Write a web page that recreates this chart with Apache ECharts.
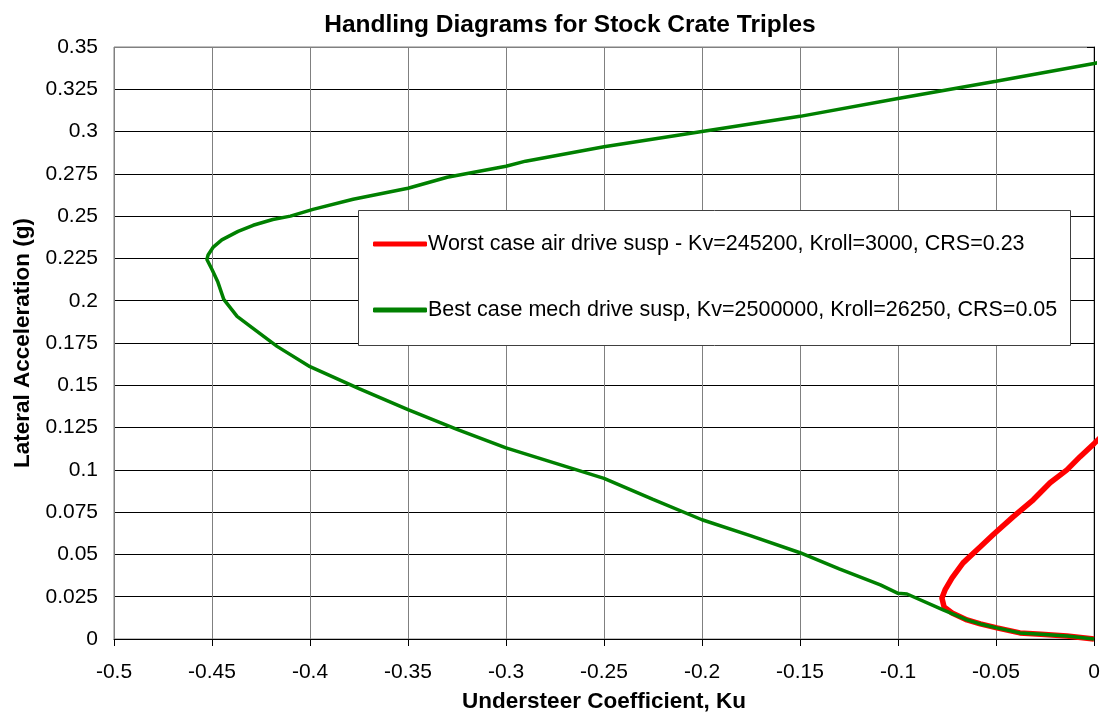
<!DOCTYPE html>
<html>
<head>
<meta charset="utf-8">
<script src="https://cdn.jsdelivr.net/npm/echarts@6/dist/echarts.min.js"></script>
<style>
html,body{margin:0;padding:0;background:#fff;}
#chart{width:1103px;height:715px;}
</style>
</head>
<body>
<div id="chart"></div>
<script>
var titleText = 'Handling Diagrams for Stock Crate Triples';
var xAxisName = 'Understeer Coefficient, Ku';
var yAxisName = 'Lateral Acceleration (g)';
var seriesNames = [
  'Worst case air drive susp - Kv=245200, Kroll=3000, CRS=0.23',
  'Best case mech drive susp, Kv=2500000, Kroll=26250, CRS=0.05'
];
// [Ku, lateral g]
var worstCase = [
  [0, 0], [-0.0138, 0.0018], [-0.027, 0.0028], [-0.0378, 0.0036],
  [-0.0495, 0.0066], [-0.058, 0.0089], [-0.0648, 0.0113], [-0.0724, 0.0154],
  [-0.0765, 0.019], [-0.0776, 0.0243], [-0.076, 0.029], [-0.0724, 0.0361],
  [-0.0668, 0.045], [-0.058, 0.0545], [-0.0515, 0.0616], [-0.0413, 0.0722],
  [-0.031, 0.0823], [-0.0224, 0.0924], [-0.0138, 0.100], [-0.0071, 0.1078],
  [0, 0.1155], [0.0036, 0.1195]
];
var bestCase = [
  [0, 0], [-0.0138, 0.0018], [-0.027, 0.0028], [-0.0378, 0.0036], [-0.0495, 0.0066],
  [-0.058, 0.0089], [-0.0648, 0.0113], [-0.077, 0.0172], [-0.0954, 0.0266],
  [-0.1, 0.027], [-0.109, 0.032], [-0.13, 0.0415], [-0.15, 0.051],
  [-0.175, 0.061], [-0.2, 0.0705], [-0.225, 0.0825], [-0.25, 0.095],
  [-0.275, 0.104], [-0.3, 0.113], [-0.325, 0.124], [-0.35, 0.1356],
  [-0.375, 0.148], [-0.4, 0.161], [-0.4168, 0.173], [-0.4306, 0.185],
  [-0.4372, 0.1907], [-0.444, 0.2008], [-0.447, 0.211], [-0.45, 0.2185],
  [-0.4526, 0.2244], [-0.452, 0.227], [-0.4495, 0.2315], [-0.445, 0.236],
  [-0.4367, 0.241], [-0.429, 0.2446], [-0.419, 0.248], [-0.41, 0.25],
  [-0.3985, 0.254], [-0.378, 0.26], [-0.35, 0.2665], [-0.33, 0.273],
  [-0.3, 0.2795], [-0.29, 0.2825], [-0.25, 0.291], [-0.2, 0.300],
  [-0.15, 0.309], [-0.1, 0.3195], [-0.05, 0.3298], [0, 0.3402], [0.005, 0.3415]
];
var yTickCount = 15;

var chart = echarts.init(document.getElementById('chart'), null, {renderer: 'canvas'});
var ySplitColors = [];
for (var i = 0; i < yTickCount; i++) ySplitColors.push(i === yTickCount - 1 ? '#808080' : '#000000');
var FONT = 'Liberation Sans, Arial, sans-serif';
var option = {
  backgroundColor: '#ffffff',
  animation: false,
  title: {
    text: titleText,
    left: 565, top: 8, textAlign: 'center',
    textStyle: {fontFamily: FONT, fontSize: 24.5, fontWeight: 'bold', color: '#000'}
  },
  grid: {left: 114, right: 9, top: 47, bottom: 76, show: true, borderColor: '#808080', borderWidth: 1,
         containLabel: false, outerBoundsMode: 'none'},
  legend: {
    orient: 'vertical', left: 368, top: 228,
    itemGap: 44, itemWidth: 54, itemHeight: 5,
    icon: 'roundRect', z: 10,
    textStyle: {fontFamily: FONT, fontSize: 21.5, color: '#000', padding: [0, 0, 0, -4]},
    data: seriesNames
  },
  graphic: [{
    type: 'rect', shape: {x: 358.5, y: 210.5, width: 712, height: 135},
    style: {fill: '#ffffff', stroke: '#404040', lineWidth: 1}, z: 3
  }],
  xAxis: {
    type: 'value', min: -0.5, max: 0, interval: 0.05,
    name: xAxisName, nameLocation: 'middle', nameGap: 51, nameMoveOverlap: false,
    nameTextStyle: {fontFamily: FONT, fontSize: 22.5, fontWeight: 'bold', color: '#000'},
    axisLine: {lineStyle: {color: '#000', width: 1}},
    axisTick: {show: true, length: 7, lineStyle: {color: '#000'}},
    axisLabel: {fontFamily: FONT, fontSize: 21, color: '#000', margin: 23},
    splitLine: {show: true, lineStyle: {color: '#808080', width: 1}}
  },
  yAxis: {
    type: 'value', min: 0, max: 0.35, interval: 0.025,
    name: yAxisName, nameLocation: 'middle', nameGap: 80, nameMoveOverlap: false,
    nameTextStyle: {fontFamily: FONT, fontSize: 22.5, fontWeight: 'bold', color: '#000'},
    axisLine: {show: true, lineStyle: {color: '#000', width: 1}},
    axisTick: {show: true, length: 7, lineStyle: {color: '#000'}},
    axisLabel: {fontFamily: FONT, fontSize: 21, color: '#000', margin: 16},
    splitLine: {show: true, lineStyle: {color: ySplitColors, width: 1}}
  },
  series: [
    {
      name: seriesNames[0], type: 'line', data: worstCase, showSymbol: false, symbol: 'none',
      clip: false, smooth: false, z: 2,
      lineStyle: {color: '#ff0000', width: 5.5}, itemStyle: {color: '#ff0000'}
    },
    {
      name: seriesNames[1], type: 'line', data: bestCase, showSymbol: false, symbol: 'none',
      clip: false, smooth: false, z: 4,
      lineStyle: {color: '#008000', width: 3.5}, itemStyle: {color: '#008000'}
    }
  ]
};
chart.setOption(option);
</script>
</body>
</html>
